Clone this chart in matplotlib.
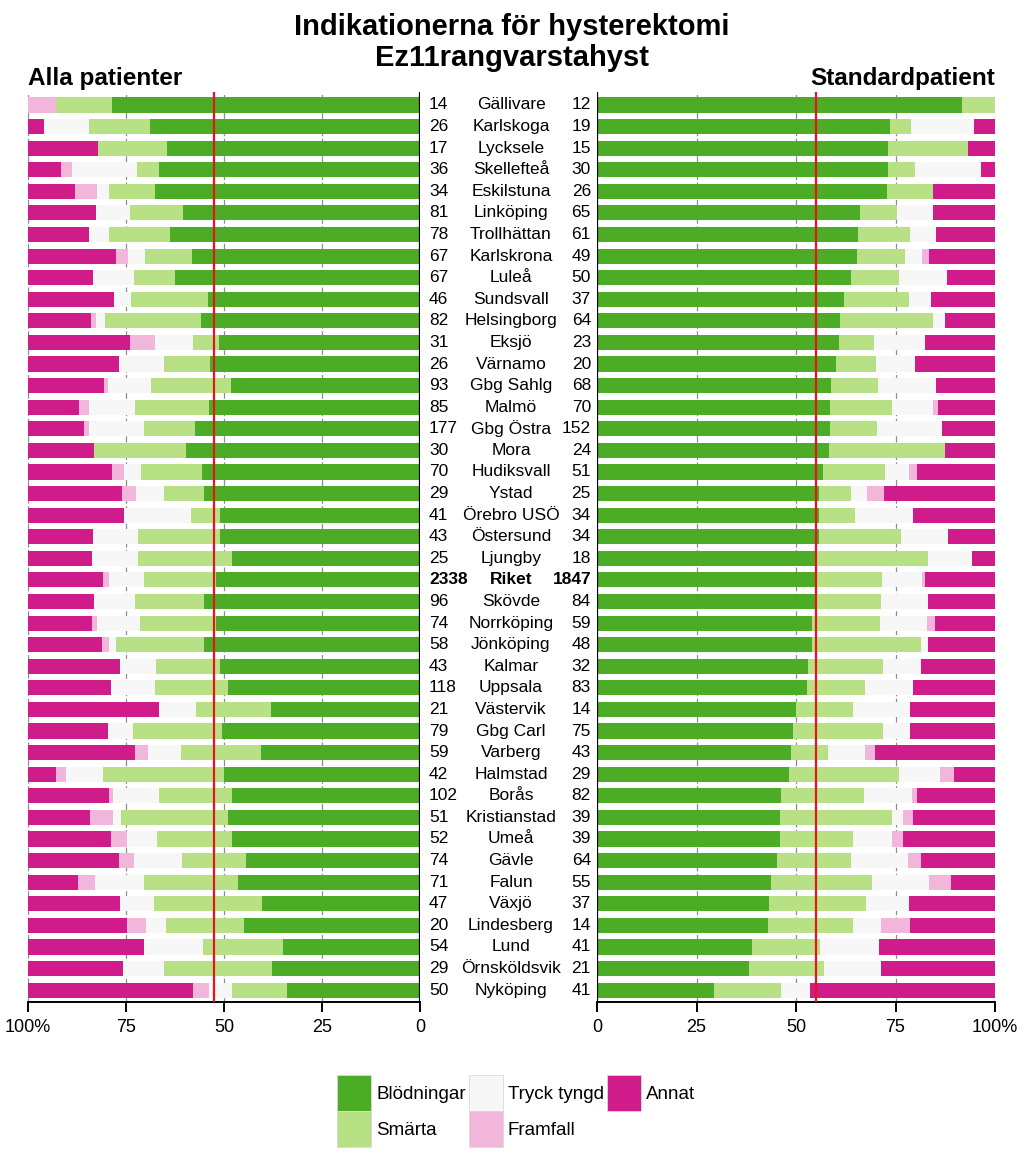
import matplotlib
matplotlib.use("Agg")
import matplotlib.pyplot as plt
import matplotlib.transforms as mtransforms
from matplotlib.patches import Patch
from matplotlib import font_manager

names = ["Gällivare", "Karlskoga", "Lycksele", "Skellefteå", "Eskilstuna", "Linköping",
         "Trollhättan", "Karlskrona", "Luleå", "Sundsvall", "Helsingborg", "Eksjö",
         "Värnamo", "Gbg Sahlg", "Malmö", "Gbg Östra", "Mora", "Hudiksvall", "Ystad",
         "Örebro USÖ", "Östersund", "Ljungby", "Riket", "Skövde", "Norrköping",
         "Jönköping", "Kalmar", "Uppsala", "Västervik", "Gbg Carl", "Varberg",
         "Halmstad", "Borås", "Kristianstad", "Umeå", "Gävle", "Falun", "Växjö",
         "Lindesberg", "Lund", "Örnsköldsvik", "Nyköping"]
n_all = [14, 26, 17, 36, 34, 81, 78, 67, 67, 46, 82, 31, 26, 93, 85, 177, 30, 70, 29,
         41, 43, 25, 2338, 96, 74, 58, 43, 118, 21, 79, 59, 42, 102, 51, 52, 74, 71,
         47, 20, 54, 29, 50]
n_std = [12, 19, 15, 30, 26, 65, 61, 49, 50, 37, 64, 23, 20, 68, 70, 152, 24, 51, 25,
         34, 34, 18, 1847, 84, 59, 48, 32, 83, 14, 75, 43, 29, 82, 39, 39, 64, 55,
         37, 14, 41, 21, 41]

categories = ["Blödningar", "Smärta", "Tryck tyngd", "Framfall", "Annat"]
colors = ["#4dac26", "#b8e186", "#f7f7f7", "#f1b6da", "#d01c8b"]

# Alla patienter (%)
all_blod = [78.6, 69.0, 64.5, 66.6, 67.6, 60.4, 63.8, 58.2, 62.5, 54.1, 55.9, 51.4,
            53.6, 48.2, 53.8, 57.4, 59.8, 55.6, 55.1, 51.1, 50.9, 48.0, 52.1, 55.1,
            52.1, 55.1, 50.9, 48.9, 38.0, 50.4, 40.5, 49.9, 48.0, 48.9, 48.0, 44.4,
            46.4, 40.2, 44.9, 34.9, 37.7, 34.0]
all_smarta = [14.3, 15.4, 17.7, 5.5, 11.7, 13.7, 15.5, 11.9, 10.5, 19.6, 24.4, 6.5,
              11.7, 20.4, 18.9, 13.1, 23.4, 15.7, 10.2, 7.3, 21.1, 23.9, 18.2, 17.6,
              19.4, 22.5, 16.4, 18.7, 19.1, 22.9, 20.4, 30.9, 18.6, 27.4, 19.1, 16.2,
              24.0, 27.7, 19.9, 20.5, 27.6, 14.0]
all_tryck = [0.0, 11.5, 0.0, 16.7, 3.0, 8.5, 5.2, 4.5, 10.5, 4.4, 2.4, 9.7, 11.5,
             11.0, 11.8, 14.0, 0.0, 4.2, 7.1, 17.1, 11.5, 11.9, 9.0, 10.5, 10.8, 1.7,
             9.2, 11.2, 9.5, 6.3, 8.5, 9.5, 11.7, 2.0, 7.7, 12.3, 12.6, 8.6, 5.0,
             15.0, 10.5, 5.9]
all_framfall = [7.1, 0.0, 0.0, 2.8, 5.7, 0.0, 0.0, 2.9, 0.0, 0.0, 1.2, 6.4, 0.0, 0.9,
                2.5, 1.2, 0.0, 3.1, 3.5, 0.0, 0.0, 0.0, 1.5, 0.0, 1.5, 1.7, 0.0, 0.0,
                0.0, 0.0, 3.4, 2.6, 1.0, 6.0, 4.0, 3.9, 4.2, 0.0, 5.0, 0.0, 0.0, 4.0]

# Standardpatient (%)
std_blod = [91.6, 73.7, 73.2, 73.2, 72.9, 66.1, 65.6, 65.3, 63.9, 62.1, 61.0, 60.7,
            60.0, 58.7, 58.5, 58.5, 58.3, 56.7, 55.9, 55.7, 55.7, 55.4, 55.2, 55.2,
            54.1, 54.1, 53.1, 52.8, 50.0, 49.2, 48.7, 48.2, 46.2, 46.0, 46.0, 45.2,
            43.6, 43.3, 42.9, 38.9, 38.2, 29.4]
std_smarta = [8.4, 5.2, 20.1, 6.7, 11.6, 9.3, 13.0, 12.1, 12.0, 16.3, 23.3, 8.9, 10.0,
              11.8, 15.6, 11.8, 29.1, 15.7, 8.0, 9.0, 20.7, 27.8, 16.3, 16.1, 16.9,
              27.2, 18.7, 14.5, 14.2, 22.7, 9.3, 27.7, 20.9, 28.1, 18.2, 18.7, 25.5,
              24.3, 21.3, 17.1, 18.8, 16.8]
std_tryck = [0.0, 15.9, 0.0, 16.6, 0.0, 9.1, 6.7, 4.3, 12.1, 5.4, 3.1, 12.9, 9.9, 14.8,
             10.2, 16.4, 0.0, 6.0, 3.9, 14.7, 11.8, 11.1, 10.2, 11.9, 12.0, 1.9, 9.5,
             12.1, 14.4, 6.7, 9.3, 10.3, 12.0, 2.8, 10.0, 14.2, 14.4, 10.8, 7.1, 14.8,
             14.3, 7.4]
std_framfall = [0.0, 0.0, 0.0, 0.0, 0.0, 0.0, 0.0, 1.8, 0.0, 0.0, 0.0, 0.0, 0.0, 0.0,
                1.4, 0.0, 0.0, 1.9, 4.2, 0.0, 0.0, 0.0, 0.8, 0.0, 1.8, 0.0, 0.0, 0.0,
                0.0, 0.0, 2.5, 3.5, 1.3, 2.5, 2.7, 3.2, 5.4, 0.0, 7.3, 0.0, 0.0, 0.0]

riket_all = 52.5
riket_std = 55.1

available = {f.name for f in font_manager.fontManager.ttflist}
base_font = "Liberation Sans" if "Liberation Sans" in available else "DejaVu Sans"
narrow_font = "Liberation Sans Narrow" if "Liberation Sans Narrow" in available else base_font
plt.rcParams["font.family"] = [base_font, "DejaVu Sans"]


def annat(*parts):
    return [max(0.0, 100.0 - sum(v)) for v in zip(*parts)]


all_annat = annat(all_blod, all_smarta, all_tryck, all_framfall)
std_annat = annat(std_blod, std_smarta, std_tryck, std_framfall)

all_series = [all_blod, all_smarta, all_tryck, all_framfall, all_annat]
std_series = [std_blod, std_smarta, std_tryck, std_framfall, std_annat]

W, H = 1024, 1170
fig = plt.figure(figsize=(W / 100, H / 100), dpi=100)
ax_b, ax_t = 1002, 92
axL = fig.add_axes([28 / W, 1 - ax_b / H, 392 / W, (ax_b - ax_t) / H])
axR = fig.add_axes([597 / W, 1 - ax_b / H, 398 / W, (ax_b - ax_t) / H])

ypos = list(range(len(names)))
bar_h = 0.7


def draw(ax, series, ref, ticklabels):
    left = [0.0] * len(names)
    for vals, col in zip(series, colors):
        ax.barh(ypos, vals, left=left, height=bar_h, color=col, linewidth=0, zorder=2)
        left = [a + b for a, b in zip(left, vals)]
    for g in (25, 50, 75, 100):
        ax.axvline(g, color="#8c8c8c", lw=0.9, ls=(0, (5, 2)), zorder=1)
    ax.axvline(0, color="black", lw=1.6, zorder=3)
    ax.axvline(ref, color="#e8141c", lw=1.6, zorder=4)
    ax.set_ylim(len(names) - 0.45, -0.6)
    ax.set_yticks([])
    for s in ("top", "left", "right"):
        ax.spines[s].set_visible(False)
    ax.spines["bottom"].set_linewidth(1.4)
    ax.set_xticks([0, 25, 50, 75, 100])
    ax.set_xticklabels(ticklabels, fontsize=13)
    ax.tick_params(axis="x", length=7, width=1.4, direction="out", pad=5)


draw(axL, all_series, riket_all, ["0", "25", "50", "75", "100%"])
axL.set_xlim(100, 0)
draw(axR, std_series, riket_std, ["0", "25", "50", "75", "100%"])
axR.set_xlim(0, 100)

trans = mtransforms.blended_transform_factory(fig.transFigure, axL.transData)
for i, (nm, a, s) in enumerate(zip(names, n_all, n_std)):
    fw = "bold" if nm == "Riket" else "normal"
    fig.text(429 / W, i, str(a), transform=trans, ha="left", va="center", fontsize=12.5, fontweight=fw)
    fig.text(511 / W, i, nm, transform=trans, ha="center", va="center", fontsize=12.5, fontweight=fw)
    fig.text(591 / W, i, str(s), transform=trans, ha="right", va="center", fontsize=12.5, fontweight=fw)

fig.text(512 / W, 1 - 27 / H, "Indikationerna för hysterektomi", ha="center", va="center",
         fontsize=21, fontweight="bold", family=[narrow_font, "DejaVu Sans"])
fig.text(512 / W, 1 - 58 / H, "Ez11rangvarstahyst", ha="center", va="center",
         fontsize=21, fontweight="bold", family=[narrow_font, "DejaVu Sans"])
fig.text(28 / W, 1 - 78 / H, "Alla patienter", ha="left", va="center",
         fontsize=17.5, fontweight="bold", family=[narrow_font, "DejaVu Sans"])
fig.text(995 / W, 1 - 78 / H, "Standardpatient", ha="right", va="center",
         fontsize=17.5, fontweight="bold", family=[narrow_font, "DejaVu Sans"])

handles = [Patch(facecolor=c, edgecolor="#d9d9d9", linewidth=0.6, label=l)
           for c, l in zip(colors, categories)]
fig.legend(handles=handles, loc="center", bbox_to_anchor=(516 / W, 1 - 1111 / H), ncol=3,
           frameon=False, fontsize=13.5, handlelength=1.85, handleheight=2.6,
           labelspacing=0.0, handletextpad=0.25, columnspacing=0.15, borderpad=0)

fig.savefig("out.png", dpi=100)
